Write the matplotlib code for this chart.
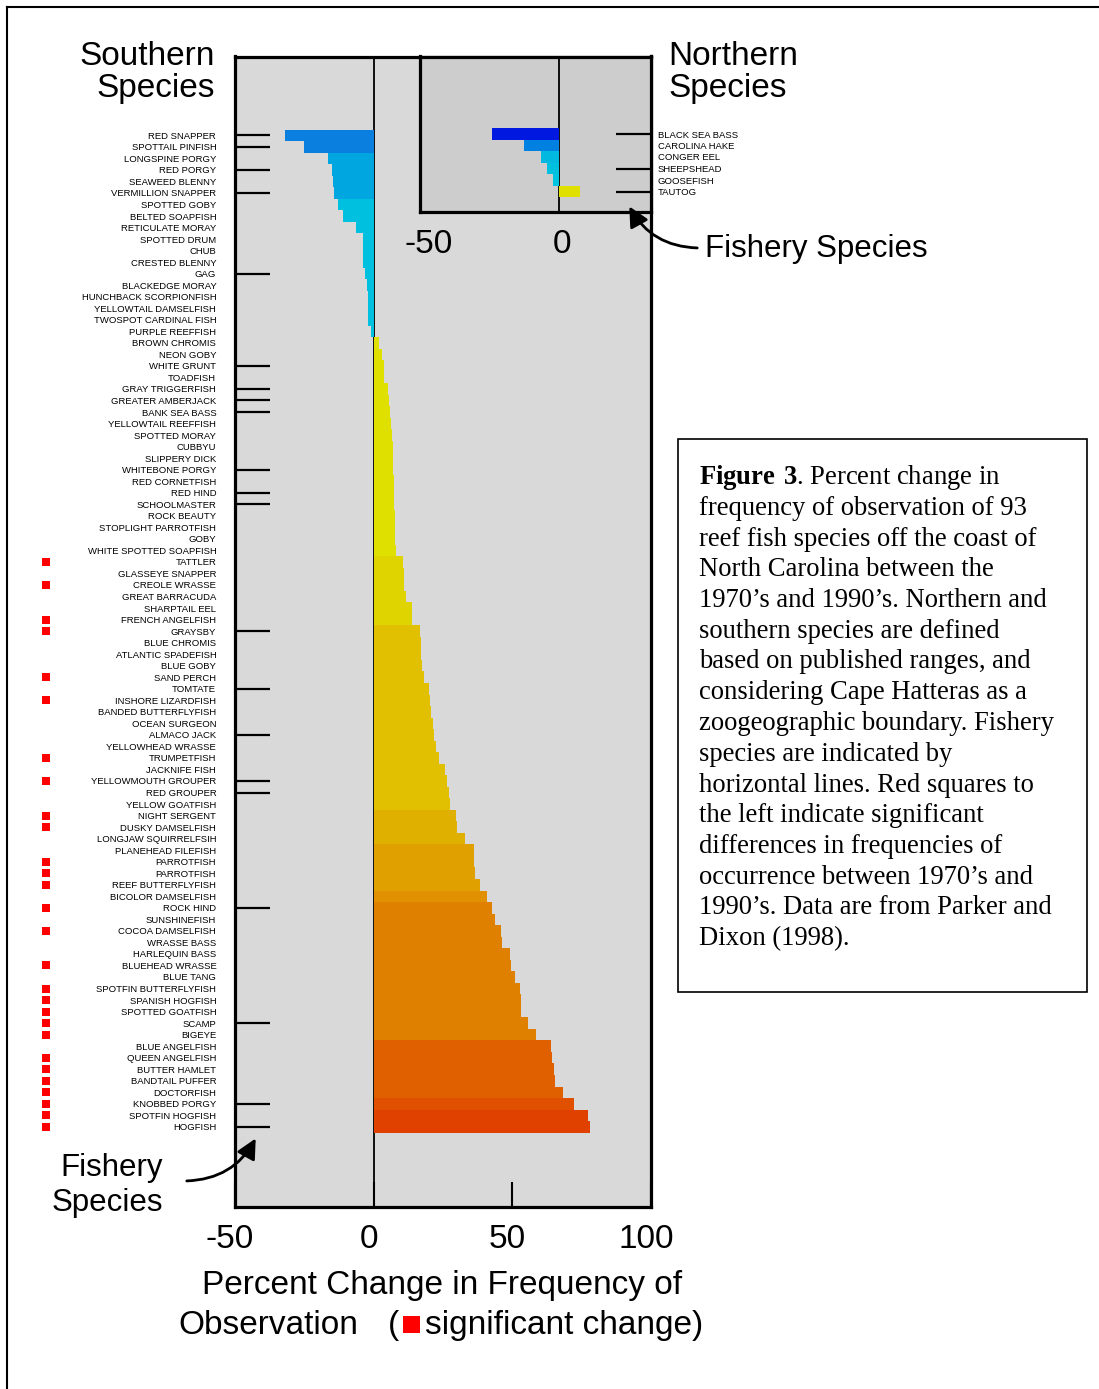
import matplotlib
matplotlib.use("Agg")
import matplotlib.pyplot as plt
from matplotlib.patches import Rectangle, FancyArrowPatch
from matplotlib.lines import Line2D
from matplotlib.transforms import blended_transform_factory, ScaledTranslation

plt.rcParams['font.family'] = ['Liberation Sans', 'DejaVu Sans']
plt.rcParams['axes.unicode_minus'] = False
plt.rcParams['mathtext.fontset'] = 'custom'
plt.rcParams['mathtext.rm'] = 'Liberation Serif'
plt.rcParams['mathtext.bf'] = 'Liberation Serif:bold'

# southern species, top to bottom
south_names = [
    "RED SNAPPER", "SPOTTAIL PINFISH", "LONGSPINE PORGY", "RED PORGY", "SEAWEED BLENNY",
    "VERMILLION SNAPPER", "SPOTTED GOBY", "BELTED SOAPFISH", "RETICULATE MORAY", "SPOTTED DRUM",
    "CHUB", "CRESTED BLENNY", "GAG", "BLACKEDGE MORAY", "HUNCHBACK SCORPIONFISH",
    "YELLOWTAIL DAMSELFISH", "TWOSPOT CARDINAL FISH", "PURPLE REEFFISH", "BROWN CHROMIS", "NEON GOBY",
    "WHITE GRUNT", "TOADFISH", "GRAY TRIGGERFISH", "GREATER AMBERJACK", "BANK SEA BASS",
    "YELLOWTAIL REEFFISH", "SPOTTED MORAY", "CUBBYU", "SLIPPERY DICK", "WHITEBONE PORGY",
    "RED CORNETFISH", "RED HIND", "SCHOOLMASTER", "ROCK BEAUTY", "STOPLIGHT PARROTFISH",
    "GOBY", "WHITE SPOTTED SOAPFISH", "TATTLER", "GLASSEYE SNAPPER", "CREOLE WRASSE",
    "GREAT BARRACUDA", "SHARPTAIL EEL", "FRENCH ANGELFISH", "GRAYSBY", "BLUE CHROMIS",
    "ATLANTIC SPADEFISH", "BLUE GOBY", "SAND PERCH", "TOMTATE", "INSHORE LIZARDFISH",
    "BANDED BUTTERFLYFISH", "OCEAN SURGEON", "ALMACO JACK", "YELLOWHEAD WRASSE", "TRUMPETFISH",
    "JACKNIFE FISH", "YELLOWMOUTH GROUPER", "RED GROUPER", "YELLOW GOATFISH", "NIGHT SERGENT",
    "DUSKY DAMSELFISH", "LONGJAW SQUIRRELFSIH", "PLANEHEAD FILEFISH", "PARROTFISH", "PARROTFISH",
    "REEF BUTTERFLYFISH", "BICOLOR DAMSELFISH", "ROCK HIND", "SUNSHINEFISH", "COCOA DAMSELFISH",
    "WRASSE BASS", "HARLEQUIN BASS", "BLUEHEAD WRASSE", "BLUE TANG", "SPOTFIN BUTTERFLYFISH",
    "SPANISH HOGFISH", "SPOTTED GOATFISH", "SCAMP", "BIGEYE", "BLUE ANGELFISH",
    "QUEEN ANGELFISH", "BUTTER HAMLET", "BANDTAIL PUFFER", "DOCTORFISH", "KNOBBED PORGY",
    "SPOTFIN HOGFISH", "HOGFISH",
]

south_change = [
    -31.8, -25.2, -16.4, -15.0, -14.6, -14.3, -12.9, -11.1, -6.2, -4.0,
    -4.0, -3.9, -3.2, -2.3, -2.2, -2.1, -1.9, -0.8, 1.9, 3.1,
    3.8, 3.9, 5.2, 5.7, 5.9, 6.4, 6.6, 6.8, 6.9, 7.1,
    7.3, 7.4, 7.5, 7.6, 7.7, 7.8, 8.1, 10.6, 10.8, 11.0,
    11.5, 13.7, 14.0, 16.8, 17.0, 17.2, 17.4, 18.0, 20.0, 20.4,
    20.8, 21.3, 21.8, 22.5, 23.5, 25.9, 26.6, 27.0, 27.7, 29.6,
    30.0, 33.0, 36.0, 36.2, 36.4, 38.4, 40.7, 42.5, 43.7, 46.0,
    46.3, 49.0, 49.5, 51.0, 52.6, 53.2, 53.3, 55.6, 58.7, 63.9,
    64.2, 65.0, 65.3, 68.2, 72.3, 77.3, 77.9,
]

# red squares = significant change
south_signif = [
    0, 0, 0, 0, 0, 0, 0, 0, 0, 0,
    0, 0, 0, 0, 0, 0, 0, 0, 0, 0,
    0, 0, 0, 0, 0, 0, 0, 0, 0, 0,
    0, 0, 0, 0, 0, 0, 0, 1, 0, 1,
    0, 0, 1, 1, 0, 0, 0, 1, 0, 1,
    0, 0, 0, 0, 1, 0, 1, 0, 0, 1,
    1, 0, 0, 1, 1, 1, 0, 1, 0, 1,
    0, 0, 1, 0, 1, 1, 1, 1, 1, 0,
    1, 1, 1, 1, 1, 1, 1,
]

# horizontal lines = fishery species
south_fishery = [
    "RED SNAPPER", "SPOTTAIL PINFISH", "RED PORGY", "VERMILLION SNAPPER", "GAG",
    "WHITE GRUNT", "GRAY TRIGGERFISH", "GREATER AMBERJACK", "BANK SEA BASS", "WHITEBONE PORGY",
    "RED HIND", "SCHOOLMASTER", "GRAYSBY", "TOMTATE", "ALMACO JACK",
    "YELLOWMOUTH GROUPER", "RED GROUPER", "ROCK HIND", "SCAMP", "KNOBBED PORGY", "HOGFISH",
]

north_names = ["BLACK SEA BASS", "CAROLINA HAKE", "CONGER EEL", "SHEEPSHEAD", "GOOSEFISH", "TAUTOG"]
north_change = [-25.3, -13.2, -6.9, -4.5, -2.3, 7.9]
north_fishery = ["BLACK SEA BASS", "SHEEPSHEAD", "TAUTOG"]

# colour bands (number of bars, colour)
south_bands = [(2, '#0a7fe0'), (4, '#00a6e0'), (12, '#00c0e0'), (19, '#e0e000'),
               (6, '#e0d400'), (16, '#e0c000'), (3, '#e0b000'), (4, '#e0a000'),
               (1, '#e09000'), (12, '#e08000'), (5, '#e06000'), (1, '#e05000'),
               (2, '#e04000')]
north_colors = ['#0018e0', '#0080e0', '#00b8e0', '#00c0e0', '#00c4e0', '#e0e000']

W, H = 1099, 1389


def fx(px):
    return px / W


def fy(py):
    return 1 - py / H


south_colors = []
for n, c in south_bands:
    south_colors += [c] * n

fig = plt.figure(figsize=(W / 100, H / 100), dpi=100)

# ---- main panel ----
pitch = 11.53
row0 = 135.3
top, bot = 56.5, 1207
ax = fig.add_axes([fx(235), fy(bot), (651 - 235) / W, (bot - top) / H])
ax.set_facecolor('#d9d9d9')
rows = list(range(len(south_names)))
ax.barh(rows, south_change, height=1.0, color=south_colors, zorder=2)
ax.axvline(0, color='black', lw=1.3, zorder=1)
ax.set_xlim(-50, 100)
ax.set_ylim((bot - row0) / pitch, (top - row0) / pitch)
for s in ax.spines.values():
    s.set_linewidth(2.3)
ax.set_xticks([-50, 0, 50, 100])
ax.tick_params(axis='x', direction='in', length=18, width=1.5, labelsize=24, pad=12)
for lab in ax.get_xticklabels():
    lab.set_transform(lab.get_transform() + ScaledTranslation(-0.05, 0, fig.dpi_scale_trans))
ax.set_yticks(rows)
ax.set_yticklabels(south_names, fontsize=6.8)
ax.tick_params(axis='y', length=0, pad=13.5)

fish_rows = [i for i, nm in enumerate(south_names) if nm in south_fishery]
ax.hlines(fish_rows, -50, -37.4, color='black', lw=1.6, zorder=3)

sig_rows = [i for i in rows if south_signif[i] == 1]
trans = blended_transform_factory(fig.transFigure, ax.transData)
ax.scatter([fx(45.5)] * len(sig_rows), sig_rows, marker='s', s=36, color='red',
           linewidths=0, transform=trans, clip_on=False, zorder=5)

# ---- northern inset ----
itop, ibot = 56.5, 212
ins = fig.add_axes([fx(420), fy(ibot), (651 - 420) / W, (ibot - itop) / H])
ins.set_facecolor('#cdcdcd')
nrows = list(range(len(north_names)))
ins.barh(nrows, north_change, height=1.0, color=north_colors, zorder=2)
ins.axvline(0, color='black', lw=1.3, zorder=1)
ins.set_xlim(-52.3, 34.6)
ins.set_ylim((ibot - 134) / 11.5, (itop - 134) / 11.5)
for s in ins.spines.values():
    s.set_linewidth(2.3)
ins.set_xticks([-50, 0])
ins.tick_params(axis='x', length=0, labelsize=24, pad=12.5)
for lab in ins.get_xticklabels():
    lab.set_transform(lab.get_transform() + ScaledTranslation(0.03, 0, fig.dpi_scale_trans))
ins.yaxis.tick_right()
ins.set_yticks(nrows)
ins.set_yticklabels(north_names, fontsize=6.8)
ins.tick_params(axis='y', length=0, pad=5)
nfish = [i for i, nm in enumerate(north_names) if nm in north_fishery]
ins.hlines(nfish, 21.4, 34.6, color='black', lw=1.6, zorder=3)

# ---- titles and annotations ----
fig.text(fx(215), fy(65), "Southern", ha='right', va='baseline', fontsize=24)
fig.text(fx(215), fy(97), "Species", ha='right', va='baseline', fontsize=24)
fig.text(fx(668), fy(65), "Northern", ha='left', va='baseline', fontsize=24)
fig.text(fx(668), fy(97), "Species", ha='left', va='baseline', fontsize=24)
fig.text(fx(705), fy(257), "Fishery Species", ha='left', va='baseline', fontsize=22.5)
fig.text(fx(163), fy(1176), "Fishery", ha='right', va='baseline', fontsize=22.5)
fig.text(fx(163), fy(1211), "Species", ha='right', va='baseline', fontsize=22.5)

fig.add_artist(FancyArrowPatch((fx(184), fy(1181)), (fx(257), fy(1136)),
                               transform=fig.transFigure, arrowstyle='-|>',
                               mutation_scale=30, lw=2, color='black',
                               connectionstyle='arc3,rad=0.3'))
fig.add_artist(FancyArrowPatch((fx(700), fy(248)), (fx(628), fy(204)),
                               transform=fig.transFigure, arrowstyle='-|>',
                               mutation_scale=30, lw=2, color='black',
                               connectionstyle='arc3,rad=-0.3'))

# x label with red square
fig.text(fx(442), fy(1294), "Percent Change in Frequency of", ha='center', va='baseline', fontsize=24)
fig.text(fx(178), fy(1334), "Observation", ha='left', va='baseline', fontsize=24)
fig.text(fx(388), fy(1334), "(", ha='left', va='baseline', fontsize=24)
fig.add_artist(Rectangle((fx(403), fy(1333)), 17 / W, 17 / H, transform=fig.transFigure,
                         color='red', lw=0))
fig.text(fx(425), fy(1334), "significant change)", ha='left', va='baseline', fontsize=24)

# caption box
fig.add_artist(Rectangle((fx(678), fy(992)), (1087 - 678) / W, (992 - 439) / H,
                         transform=fig.transFigure, facecolor='white', edgecolor='black', lw=1.2))
caption = [
    r"$\mathbf{Figure\ 3}$. Percent change in",
    "frequency of observation of 93",
    "reef fish species off the coast of",
    "North Carolina between the",
    "1970’s and 1990’s. Northern and",
    "southern species are defined",
    "based on published ranges, and",
    "considering Cape Hatteras as a",
    "zoogeographic boundary. Fishery",
    "species are indicated by",
    "horizontal lines. Red squares to",
    "the left indicate significant",
    "differences in frequencies of",
    "occurrence between 1970’s and",
    "1990’s. Data are from Parker and",
    "Dixon (1998).",
]
for i, line in enumerate(caption):
    fig.text(fx(699), fy(484 + i * 30.75), line, ha='left', va='baseline',
             fontsize=19.2, family='Liberation Serif')

# page frame
fig.add_artist(Line2D([fx(7), fx(7)], [fy(7), 0], transform=fig.transFigure, color='black', lw=1.5))
fig.add_artist(Line2D([fx(7), 1], [fy(7), fy(7)], transform=fig.transFigure, color='black', lw=1.5))

fig.savefig("out.png", dpi=100)
